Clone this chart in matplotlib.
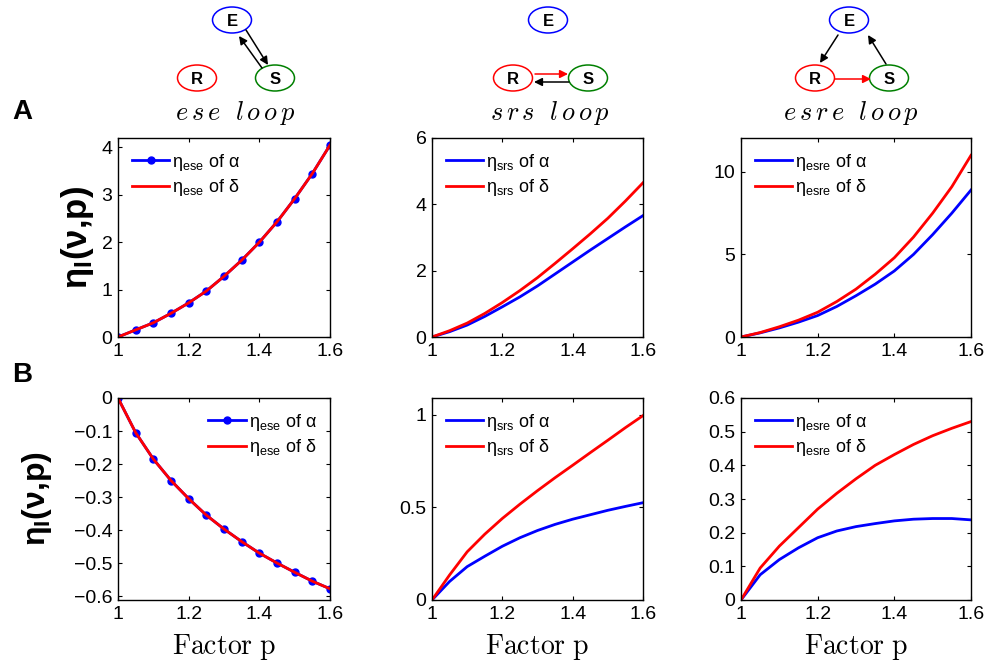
"""Elasticity of loops vs factor p (rows A/B, three loop motifs)."""
import matplotlib
matplotlib.use('Agg')
import matplotlib.pyplot as plt
from matplotlib.patches import Ellipse, FancyArrowPatch

plt.rcParams['font.family'] = ['Liberation Sans', 'DejaVu Sans']
plt.rcParams['mathtext.fontset'] = 'custom'
plt.rcParams['mathtext.rm'] = 'Liberation Sans'
plt.rcParams['mathtext.it'] = 'Liberation Sans:italic'
plt.rcParams['mathtext.bf'] = 'Liberation Sans:bold'

p = [1.0, 1.05, 1.1, 1.15, 1.2, 1.25, 1.3, 1.35, 1.4, 1.45, 1.5, 1.55, 1.6]

# row A
ese_a_alpha = [0, 0.15, 0.30, 0.50, 0.72, 0.97, 1.28, 1.62, 2.00, 2.43, 2.92, 3.45, 4.05]
ese_a_delta = [0, 0.15, 0.30, 0.50, 0.72, 0.97, 1.28, 1.62, 2.00, 2.43, 2.92, 3.45, 4.05]
srs_a_alpha = [0, 0.16, 0.36, 0.62, 0.91, 1.21, 1.54, 1.90, 2.26, 2.62, 2.97, 3.32, 3.66]
srs_a_delta = [0, 0.19, 0.42, 0.71, 1.04, 1.40, 1.79, 2.22, 2.66, 3.11, 3.58, 4.10, 4.65]
esre_a_alpha = [0, 0.25, 0.55, 0.90, 1.30, 1.85, 2.50, 3.20, 4.00, 5.00, 6.20, 7.50, 8.90]
esre_a_delta = [0, 0.27, 0.62, 1.02, 1.50, 2.15, 2.90, 3.80, 4.80, 6.05, 7.50, 9.10, 11.0]

# row B
ese_b_alpha = [0, -0.105, -0.185, -0.25, -0.305, -0.355, -0.397, -0.435, -0.47, -0.50, -0.528, -0.555, -0.578]
ese_b_delta = [0, -0.105, -0.185, -0.25, -0.305, -0.355, -0.397, -0.435, -0.47, -0.50, -0.528, -0.555, -0.578]
srs_b_alpha = [0, 0.10, 0.18, 0.236, 0.29, 0.336, 0.375, 0.408, 0.436, 0.46, 0.484, 0.505, 0.525]
srs_b_delta = [0, 0.135, 0.26, 0.355, 0.44, 0.517, 0.59, 0.66, 0.727, 0.795, 0.862, 0.93, 0.995]
esre_b_alpha = [0, 0.075, 0.12, 0.155, 0.185, 0.205, 0.218, 0.227, 0.235, 0.24, 0.242, 0.242, 0.238]
esre_b_delta = [0, 0.095, 0.16, 0.215, 0.27, 0.317, 0.36, 0.40, 0.432, 0.462, 0.488, 0.51, 0.53]

loops = ['ese', 'srs', 'esre']
row_a = [(ese_a_alpha, ese_a_delta), (srs_a_alpha, srs_a_delta), (esre_a_alpha, esre_a_delta)]
row_b = [(ese_b_alpha, ese_b_delta), (srs_b_alpha, srs_b_delta), (esre_b_alpha, esre_b_delta)]
ylims_a = [(0, 4.2), (0, 6), (0, 12.05)]
yticks_a = [[0, 1, 2, 3, 4], [0, 2, 4, 6], [0, 5, 10]]
ylims_b = [(-0.612, 0), (0, 1.09), (0, 0.6)]
yticks_b = [[-0.6, -0.5, -0.4, -0.3, -0.2, -0.1, 0], [0, 0.5, 1], [0, 0.1, 0.2, 0.3, 0.4, 0.5, 0.6]]
xticks = [1, 1.2, 1.4, 1.6]

W, H = 992, 669
fig = plt.figure(figsize=(W / 100, H / 100), dpi=100)

# axes boxes in pixels
cols_px = [(118, 330), (432, 643), (741, 971)]
rows_px = [(138, 337), (398, 600)]


def px_axes(x0, x1, y0, y1):
    return fig.add_axes([x0 / W, 1 - y1 / H, (x1 - x0) / W, (y1 - y0) / H])


def style(ax):
    ax.tick_params(direction='in', top=True, right=True, labelsize=14, length=3, width=0.8, pad=4)
    for s in ax.spines.values():
        s.set_linewidth(1.0)
    ax.set_xlim(1, 1.6)
    ax.set_xticks(xticks)
    ax.set_xticklabels(['1', '1.2', '1.4', '1.6'])


for r, (rows, ylims, yticks) in enumerate([(row_a, ylims_a, yticks_a), (row_b, ylims_b, yticks_b)]):
    y0, y1 = rows_px[r]
    for c, name in enumerate(loops):
        ax = px_axes(cols_px[c][0], cols_px[c][1], y0, y1)
        alpha, delta = rows[c]
        lab_a = 'η$_{\\rm %s}$ of α' % name
        lab_d = 'η$_{\\rm %s}$ of δ' % name
        if c == 0:
            ax.plot(p, alpha, '-o', color='blue', lw=2, ms=5, label=lab_a)
        else:
            ax.plot(p, alpha, '-', color='blue', lw=2, label=lab_a)
        ax.plot(p, delta, '-', color='red', lw=2, label=lab_d)
        style(ax)
        ax.set_ylim(*ylims[c])
        ax.set_yticks(yticks[c])
        ax.set_yticklabels(['%g' % v if v >= 0 else '\u2212%g' % -v for v in yticks[c]])
        loc = 'upper right' if (r == 1 and c == 0) else 'upper left'
        ax.legend(loc=loc, frameon=False, fontsize=13, handlelength=2.1,
                  handletextpad=0.15, labelspacing=0.25, borderaxespad=0.35)
        if c == 0:
            ax.set_ylabel('η$_{\\mathbf{I}}$(ν,p)', fontsize=25 if r == 0 else 23,
                          fontweight='bold', labelpad=4 if r == 0 else 14)
        if r == 1:
            ax.set_xlabel(r'$\mathrm{Factor\ p}$', fontsize=20, math_fontfamily='cm', labelpad=7)

# panel letters
fig.text(12 / W, 1 - 112 / H, 'A', fontsize=20, fontweight='bold', va='center')
fig.text(12 / W, 1 - 375 / H, 'B', fontsize=20, fontweight='bold', va='center')

# loop diagrams
dax = fig.add_axes([0, 0, 1, 1])
dax.set_xlim(0, W)
dax.set_ylim(H, 0)
dax.axis('off')

nodes = [
    {'E': (232, 20), 'R': (197, 78), 'S': (275, 78)},
    {'E': (548, 20), 'R': (513, 78), 'S': (588, 78)},
    {'E': (849, 20), 'R': (815, 78), 'S': (889, 78)},
]
node_colors = {'E': 'blue', 'R': 'red', 'S': 'green'}
titles = [r'$e\,s\,e\ \ l\,o\,o\,p$', r'$s\,r\,s\ \ l\,o\,o\,p$', r'$e\,s\,r\,e\ \ l\,o\,o\,p$']
title_x = [235, 550, 851]

for c in range(3):
    for k, (x, y) in nodes[c].items():
        dax.add_patch(Ellipse((x, y), 39, 26, fill=False, edgecolor=node_colors[k], lw=1.1))
        dax.text(x, y + 1, k, ha='center', va='center', fontsize=12, fontweight='bold')
    dax.text(title_x[c], 113, titles[c], ha='center', va='center', fontsize=19, math_fontfamily='cm')


def arrow(x0, y0, x1, y1, color='black'):
    dax.add_patch(FancyArrowPatch((x0, y0), (x1, y1), arrowstyle='-|>', mutation_scale=12,
                                  color=color, lw=1.1, shrinkA=0, shrinkB=0))


# ese: E <-> S
arrow(246, 30, 268, 65)
arrow(262, 68, 239, 36)
# srs: R -> S (red), S -> R (black)
arrow(535, 74, 568, 74, 'red')
arrow(569, 82, 534, 82)
# esre: E -> R, R -> S (red), S -> E
arrow(838, 35, 820, 63)
arrow(835, 79, 871, 79, 'red')
arrow(886, 64, 868, 35)

fig.savefig('out.png', dpi=100)
